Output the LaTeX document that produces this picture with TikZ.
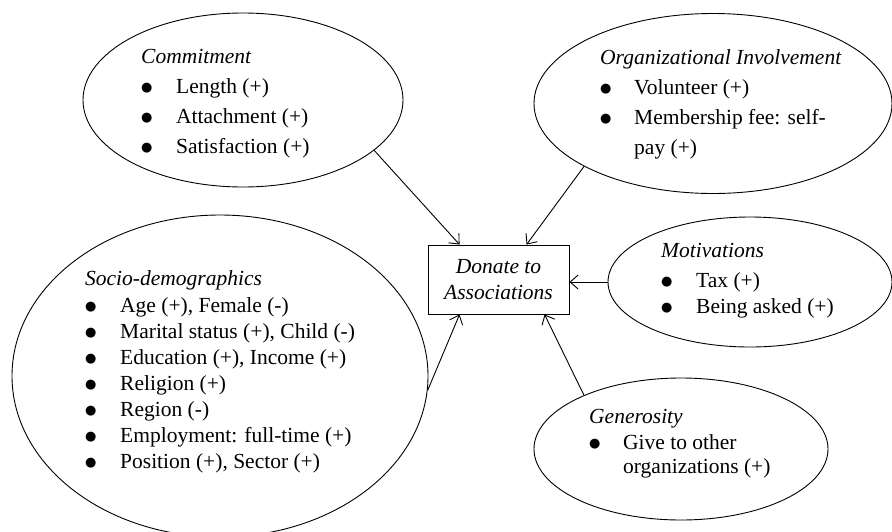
\documentclass[tikz,border=0pt]{standalone}
\usepackage{fontspec}
\setmainfont{Liberation Serif}
\newfontfamily\dotfont{DejaVu Sans}
\usetikzlibrary{shapes.geometric,arrows.meta}
\begin{document}
\begin{tikzpicture}[x=1pt,y=-1pt,
  oval/.style={draw,ellipse,inner sep=0pt,line width=0.9pt},
  lst/.style={anchor=base west,inner sep=0pt},
  arr/.style={line width=0.9pt,-{Straight Barb[length=8pt,width=14pt]}}]
   \newcommand{\blt}{\raisebox{2pt}{\fontsize{13}{13}\dotfont ●}}
   \newcommand{\ttl}[1]{\multicolumn{2}{@{}l@{}}{\textit{#1}}}
  \useasboundingbox (0,0) rectangle (892,531);

  \node[oval,minimum width=320pt,minimum height=174pt] (commit) at (243,100) {};
  \node[oval,minimum width=358pt,minimum height=180pt] (invol) at (713,103.5) {};
  \node[oval,minimum width=416pt,minimum height=322pt] (socio) at (220,376) {};
  \node[oval,minimum width=284pt,minimum height=130pt] (motiv) at (750,282) {};
  \node[oval,minimum width=294pt,minimum height=142pt] (gener) at (681,449) {};
  \node[draw,line width=0.9pt,minimum width=141pt,minimum height=69pt,inner sep=0pt,
    align=center,font=\fontsize{21.5}{26}\selectfont\itshape] (donate) at (498.5,279.5)
    {Donate to\\Associations};

  \node[lst,font=\fontsize{21.5}{30}\selectfont] (commitTxt) at (141,63) {%
    \begin{tabular}[t]{@{}p{35pt}@{}l@{}}
    \ttl{Commitment}\\
    \blt & Length (+)\\
    \blt & Attachment (+)\\
    \blt & Satisfaction (+)
    \end{tabular}};
  \node[lst,font=\fontsize{21.5}{30}\selectfont] (involTxt) at (600,64) {%
    \begin{tabular}[t]{@{}p{34pt}@{}l@{}}
    \ttl{Organizational Involvement}\\
    \blt & Volunteer (+)\\
    \blt & Membership fee: self-\\
         & pay (+)
    \end{tabular}};
  \node[lst,font=\fontsize{21.5}{26}\selectfont] (socioTxt) at (85,285) {%
    \begin{tabular}[t]{@{}p{35pt}@{}l@{}}
    \ttl{Socio-demographics}\\[1pt]
    \blt & Age (+), Female (-)\\
    \blt & Marital status (+), Child (-)\\
    \blt & Education (+), Income (+)\\
    \blt & Religion (+)\\
    \blt & Region (-)\\
    \blt & Employment: full-time (+)\\
    \blt & Position (+), Sector (+)
    \end{tabular}};
  \node[lst,font=\fontsize{21.5}{25.5}\selectfont] (motivTxt) at (661,257) {%
    \begin{tabular}[t]{@{}p{35pt}@{}l@{}}
    \ttl{Motivations}\\[5pt]
    \blt & Tax (+)\\
    \blt & Being asked (+)
    \end{tabular}};
  \node[lst,font=\fontsize{21.5}{24}\selectfont] (generTxt) at (589,423) {%
    \begin{tabular}[t]{@{}p{34pt}@{}l@{}}
    \ttl{Generosity}\\[2pt]
    \blt & Give to other\\
         & organizations (+)
    \end{tabular}};

  \draw[arr] (commit.-21) -- ([xshift=32pt]donate.north west);
  \draw[arr] (invol.206) -- ([xshift=99pt]donate.north west);
  \draw[arr] (motiv.west) -- (motiv.west -| donate.east);
  \draw[arr] (gener.151) -- ([xshift=117pt]donate.south west);
  \draw[arr] (socio.-4) -- ([xshift=32pt]donate.south west);
\end{tikzpicture}
\end{document}
